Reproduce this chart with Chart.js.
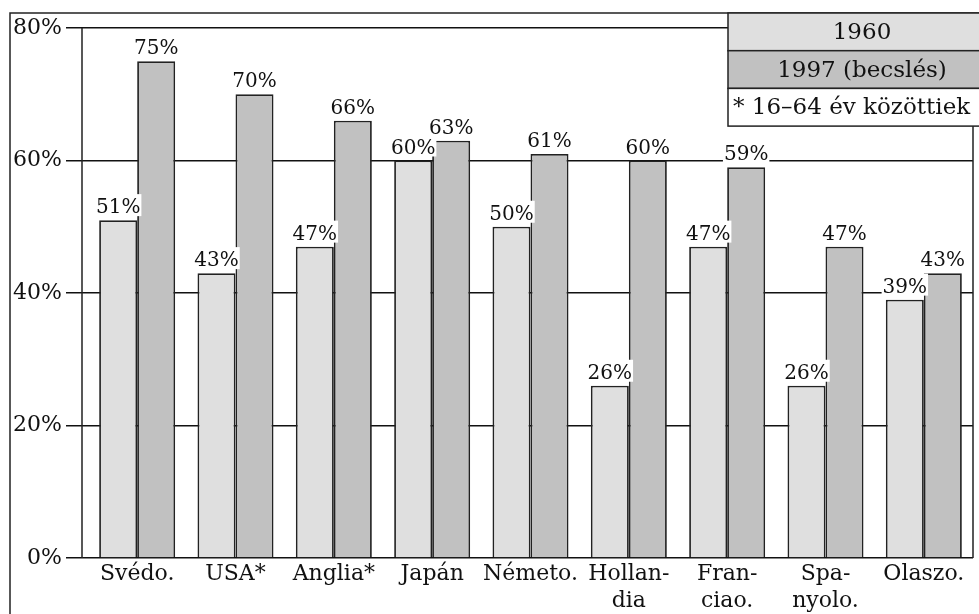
<!DOCTYPE html>
<html>
<head>
<meta charset="utf-8">
<script src="https://cdn.jsdelivr.net/npm/chart.js@4"></script>
<style>
  html, body { margin: 0; padding: 0; background: #fff; }
  #wrap { width: 979px; height: 614px; }
</style>
</head>
<body>
<div id="wrap"><canvas id="barchart" width="979" height="614"></canvas></div>
<script>
const categories = ["Svédo.", "USA*", "Anglia*", "Japán", "Németo.", ["Hollan-", "dia"], ["Fran-", "ciao."], ["Spa-", "nyolo."], "Olaszo."];
const values1960 = [51, 43, 47, 60, 50, 26, 47, 26, 39];
const values1997 = [75, 70, 66, 63, 61, 60, 59, 47, 43];
const yTicks = [0, 20, 40, 60, 80];
const legendRows = ["1960", "1997 (becslés)", "* 16–64 év közöttiek"];

const SERIF = "'DejaVu Serif', serif";
const INK = "#111";

// value labels on white boxes, cutting the grid lines
const valueLabels = {
  id: "valueLabels",
  afterDatasetsDraw(chart) {
    const ctx = chart.ctx;
    ctx.save();
    ctx.font = "20px " + SERIF;
    ctx.textAlign = "center";
    ctx.textBaseline = "alphabetic";
    chart.data.datasets.forEach((ds, i) => {
      chart.getDatasetMeta(i).data.forEach((bar, j) => {
        const txt = ds.data[j] + "%";
        const w = ctx.measureText(txt).width;
        ctx.fillStyle = "#fff";
        ctx.fillRect(bar.x - w / 2 - 1, bar.y - 26, w + 2, 22);
        ctx.fillStyle = INK;
        ctx.fillText(txt, bar.x, bar.y - 7);
      });
    });
    ctx.restore();
  }
};

// frame, axis line and the legend box
const frame = {
  id: "frame",
  afterDraw(chart) {
    const ctx = chart.ctx;
    const a = chart.chartArea;
    ctx.save();
    ctx.strokeStyle = "#222";
    ctx.lineWidth = 1.5;
    ctx.beginPath();
    ctx.moveTo(10, 614); ctx.lineTo(10, 13); ctx.lineTo(979, 13);
    ctx.moveTo(a.left - 6, a.top); ctx.lineTo(a.left - 6, a.bottom);
    ctx.moveTo(a.right, a.top); ctx.lineTo(a.right, a.bottom);
    ctx.stroke();

    const fills = ["#dfdfdf", "#c1c1c1", "#fff"];
    const x0 = 728, rowH = 37.7;
    ctx.font = "23px " + SERIF;
    ctx.textBaseline = "middle";
    legendRows.forEach((t, i) => {
      const y = 13 + i * rowH;
      ctx.fillStyle = fills[i];
      ctx.fillRect(x0, y, 260, rowH);
      ctx.strokeRect(x0, y, 260, rowH);
      ctx.fillStyle = INK;
      if (i < 2) {
        ctx.textAlign = "center";
        ctx.fillText(t, 862, y + rowH / 2 + 1);
      } else {
        ctx.textAlign = "left";
        ctx.fillText(t, x0 + 5, y + rowH / 2 + 1);
      }
    });
    ctx.restore();
  }
};

new Chart(document.getElementById("barchart").getContext("2d"), {
  type: "bar",
  data: {
    labels: categories,
    datasets: [
      {
        label: legendRows[0],
        data: values1960,
        backgroundColor: "#dfdfdf",
        borderColor: "#222",
        borderWidth: 1.8,
        inflateAmount: 0
      },
      {
        label: legendRows[1],
        data: values1997,
        backgroundColor: "#c1c1c1",
        borderColor: "#222",
        borderWidth: 1.8,
        inflateAmount: 0
      }
    ]
  },
  options: {
    responsive: false,
    animation: false,
    layout: { padding: { top: 28, right: 6, left: 0, bottom: 0 } },
    plugins: { legend: { display: false }, tooltip: { enabled: false } },
    datasets: { bar: { categoryPercentage: 0.773, barPercentage: 1 } },
    scales: {
      x: {
        grid: { display: false, drawTicks: false },
        border: { display: false },
        ticks: {
          color: INK,
          font: { family: SERIF, size: 22, lineHeight: "27px" },
          padding: 3,
          maxRotation: 0,
          autoSkip: false
        },
        afterFit(s) { s.height = 56; }
      },
      y: {
        min: 0,
        max: 80,
        afterBuildTicks(s) { s.ticks = yTicks.map(v => ({ value: v })); },
        grid: { color: INK, lineWidth: 1.5, tickLength: 22 },
        border: { display: false },
        ticks: {
          color: INK,
          font: { family: SERIF, size: 22 },
          padding: 4,
          callback: v => v + "%"
        },
        afterFit(s) { s.width = 88; }
      }
    }
  },
  plugins: [valueLabels, frame]
});
</script>
</body>
</html>
